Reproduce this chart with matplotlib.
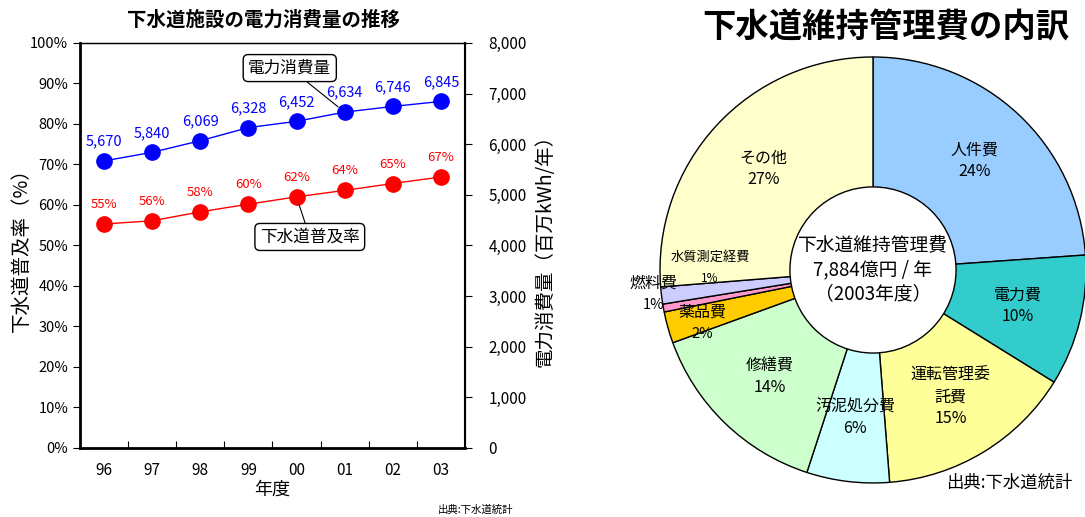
import numpy as np
import matplotlib
matplotlib.use('Agg')
import matplotlib.pyplot as plt
from matplotlib.patches import Circle

plt.rcParams['font.family'] = ['Noto Sans CJK JP', 'DejaVu Sans']

# left chart data
years = ['96', '97', '98', '99', '00', '01', '02', '03']
power = [5670, 5840, 6069, 6328, 6452, 6634, 6746, 6845]
coverage = [55.3, 56.1, 58.3, 60.2, 62.0, 63.6, 65.3, 66.9]
coverage_labels = ['55%', '56%', '58%', '60%', '62%', '64%', '65%', '67%']

# right chart data (clockwise from top)
cost_names = ['人件費', '電力費', '運転管理委\n託費', '汚泥処分費', '修繕費',
              '薬品費', '燃料費', '水質測定経費', 'その他']
cost_share = [24, 10, 15, 6.3, 14.5, 2.4, 0.6, 1.3, 26.4]
cost_pct = ['24%', '10%', '15%', '6%', '14%', '2%', '1%', '1%', '27%']
cost_colors = ['#99CCFF', '#33CCCC', '#FFFF99', '#CCFFFF', '#CCFFCC',
               '#FFCC00', '#FF99CC', '#CCCCFF', '#FFFFCC']

fig = plt.figure(figsize=(10.85, 5.17), dpi=100)

# ---- line chart ----
ax = fig.add_axes([0.0737, 0.1335, 0.3548, 0.7834])
x = np.arange(len(years))
ax.plot(x, coverage, color='#FF0000', marker='o', ms=11, lw=1, zorder=3)
ax.set_xlim(-0.5, len(years) - 0.5)
ax.set_ylim(0, 100)
ax.set_yticks(range(0, 101, 10))
ax.set_yticklabels([f'{v}%' for v in range(0, 101, 10)], fontsize=10.5)
ax.set_xticks(np.arange(0.5, len(years) - 0.5), labels=[])
ax.set_xticks(x, labels=years, minor=True, fontsize=11)
ax.tick_params(axis='x', which='major', direction='in', length=5)
ax.tick_params(axis='x', which='minor', length=0, pad=10)
ax.tick_params(axis='y', length=5)
ax.set_xlabel('年度', fontsize=13)
ax.xaxis.set_label_coords(0.5, -0.08)
ax.set_ylabel('下水道普及率（%）', fontsize=14)
ax.yaxis.set_label_coords(-0.125, 0.5)
for i, t in enumerate(coverage_labels):
    ax.annotate(t, (x[i], coverage[i]), xytext=(0, 14), textcoords='offset points',
                ha='center', va='center', color='#FF0000', fontsize=9.5)

ax2 = ax.twinx()
ax2.plot(x, power, color='#0000FF', marker='o', ms=11, lw=1, zorder=3)
ax2.set_ylim(0, 8000)
ax2.set_yticks(range(0, 8001, 1000))
ax2.set_yticklabels([f'{v:,}' for v in range(0, 8001, 1000)], fontsize=11)
ax2.tick_params(axis='y', length=5, pad=12)
ax2.set_ylabel('電力消費量（百万kWh/年）', fontsize=14)
ax2.yaxis.set_label_coords(1.182, 0.5)
for i, v in enumerate(power):
    ax2.annotate(f'{v:,}', (x[i], v), xytext=(0, 14), textcoords='offset points',
                 ha='center', va='center', color='#0000FF', fontsize=10.5)

for s, w in [('left', 2), ('bottom', 2), ('top', 1), ('right', 1.5)]:
    ax2.spines[s].set_linewidth(w)

box = dict(boxstyle='round,pad=0.3', fc='white', ec='black', lw=1)
ax2.annotate('電力消費量', xy=(5, power[5]), xytext=(0.545, 0.938),
             textcoords='axes fraction', ha='center', va='center', fontsize=12,
             bbox=box, arrowprops=dict(arrowstyle='-', color='black', lw=0.8,
                                       shrinkA=0, shrinkB=6))
ax2.annotate('下水道普及率', xy=(4, coverage[4] * 80), xytext=(0.597, 0.521),
             textcoords='axes fraction', ha='center', va='center', fontsize=12,
             bbox=box, arrowprops=dict(arrowstyle='-', color='black', lw=0.8,
                                       shrinkA=0, shrinkB=6))

fig.text(0.243, 0.961, '下水道施設の電力消費量の推移', ha='center', va='center',
         fontsize=14, fontweight='bold')
fig.text(0.438, 0.014, '出典:下水道統計', ha='center', va='center', fontsize=7.5)

# ---- donut chart ----
pax = fig.add_axes([0.6083, 0.0658, 0.3926, 0.824])
wedges, _ = pax.pie(cost_share, startangle=90, counterclock=False, colors=cost_colors,
                    radius=1, wedgeprops=dict(edgecolor='black', linewidth=1))
for w in wedges:
    w.set_clip_on(False)
pax.add_patch(Circle((0, 0), 0.39, fc='white', ec='black', lw=1, zorder=3))
pax.set_xlim(-1, 1)
pax.set_ylim(-1, 1)
pax.axis('off')

label_pos = {6: (-1.03, -0.06, -0.165), 7: (-0.765, 0.06, -0.04), 5: (-0.80, -0.197, -0.30)}
for i, w in enumerate(wedges):
    if i in label_pos:
        lx, ly, py = label_pos[i]
        fs = 9.5 if i == 7 else 11.5
        pax.text(lx, ly, cost_names[i], ha='center', va='center', fontsize=fs)
        pax.text(lx, py, cost_pct[i], ha='center', va='center',
                 fontsize=8.5 if i == 7 else 10.5)
        continue
    ang = np.deg2rad((w.theta1 + w.theta2) / 2)
    cx, cy = 0.7 * np.cos(ang), 0.7 * np.sin(ang)
    pax.text(cx, cy, cost_names[i] + '\n' + cost_pct[i], ha='center', va='center',
             fontsize=11.5, linespacing=1.35)

pax.text(0, 0, '下水道維持管理費\n7,884億円 / 年\n（2003年度）', ha='center',
         va='center', fontsize=13.5, linespacing=1.2, zorder=4)

fig.text(0.816, 0.946, '下水道維持管理費の内訳', ha='center', va='center',
         fontsize=24, fontweight='bold')
fig.text(0.930, 0.066, '出典:下水道統計', ha='center', va='center', fontsize=12.5)

fig.savefig('out.png', dpi=100)
